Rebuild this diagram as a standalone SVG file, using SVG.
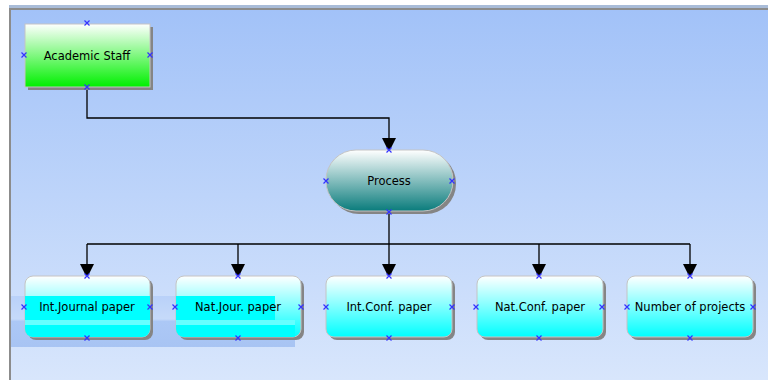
<svg xmlns="http://www.w3.org/2000/svg" width="768" height="380" viewBox="0 0 768 380">
  <defs>
    <linearGradient id="bg" x1="0" y1="0" x2="0" y2="1">
      <stop offset="0" stop-color="#a2c2f8"/>
      <stop offset="1" stop-color="#d8e6fc"/>
    </linearGradient>
    <linearGradient id="green" x1="0" y1="0" x2="0" y2="1">
      <stop offset="0" stop-color="#ffffff"/>
      <stop offset="1" stop-color="#00f000"/>
    </linearGradient>
    <linearGradient id="teal" x1="0" y1="0" x2="0" y2="1">
      <stop offset="0" stop-color="#ffffff"/>
      <stop offset="1" stop-color="#0a7c7c"/>
    </linearGradient>
    <linearGradient id="cyan" x1="0" y1="0" x2="0" y2="1">
      <stop offset="0" stop-color="#ffffff"/>
      <stop offset="1" stop-color="#00ffff"/>
    </linearGradient>
    <linearGradient id="band" x1="0" y1="0" x2="0" y2="1">
      <stop offset="0" stop-color="#b9d1f9"/>
      <stop offset="0.45" stop-color="#c6daf9"/>
      <stop offset="0.5" stop-color="#acc8f6"/>
      <stop offset="1" stop-color="#a8c4f3"/>
    </linearGradient>
    <marker id="arrow" viewBox="0 0 14 14" refX="13" refY="7" markerWidth="14" markerHeight="14" markerUnits="userSpaceOnUse" orient="auto">
      <path d="M0,0 L14,7 L0,14 Z" fill="#000"/>
    </marker>
    <path id="port" d="M-2.5,-2.5 L2.5,2.5 M-2.5,2.5 L2.5,-2.5"/>
    <clipPath id="clipJ"><rect x="25" y="276" width="125" height="61" rx="8"/></clipPath>
    <clipPath id="clipN"><rect x="176" y="276" width="125" height="61" rx="8"/></clipPath>
  </defs>
  <style>
    .shadow { fill: #858585; }
    .box { stroke: #c4c4c4; stroke-width: 1; }
    .label { font-family: "DejaVu Sans", "Liberation Sans", sans-serif; font-size: 11.5px; fill: #000; text-anchor: middle; }
    .port { stroke: #3333ff; stroke-width: 1.2; fill: none; }
    .wire { fill: none; stroke: #000; stroke-width: 1.3; }
  </style>

  <!-- canvas frame -->
  <rect x="0" y="0" width="768" height="380" fill="#ffffff"/>
  <rect x="9" y="5" width="759" height="4" fill="#a9bcd8"/>
  <rect x="9" y="8" width="759" height="2" fill="#8c8c8c"/>
  <rect x="9" y="8" width="2" height="372" fill="#8c8c8c"/>
  <rect x="11" y="10" width="757" height="370" fill="url(#bg)"/>
  <!-- redraw band behind the left-hand boxes -->
  <rect x="11" y="296" width="284" height="51" fill="url(#band)"/>

  <!-- connectors -->
  <g id="connectors">
    <path class="wire" d="M87,87 V118 H389 V151" marker-end="url(#arrow)"/>
    <path class="wire" d="M389,212 V244"/>
    <path class="wire" d="M87,244 H690"/>
    <path class="wire" d="M87,244 V277" marker-end="url(#arrow)"/>
    <path class="wire" d="M238,244 V277" marker-end="url(#arrow)"/>
    <path class="wire" d="M389,244 V277" marker-end="url(#arrow)"/>
    <path class="wire" d="M539,244 V277" marker-end="url(#arrow)"/>
    <path class="wire" d="M690,244 V277" marker-end="url(#arrow)"/>
  </g>

  <g id="academic-staff">
    <rect class="shadow" x="28" y="27" width="125" height="63"/>
    <rect class="box" x="25" y="24" width="125" height="63" fill="url(#green)"/>
    <text class="label" x="87" y="60">Academic Staff</text>
    <use class="port" href="#port" x="87" y="23"/>
    <use class="port" href="#port" x="24" y="55"/>
    <use class="port" href="#port" x="150" y="55"/>
    <use class="port" href="#port" x="87" y="87"/>
  </g>

  <g id="process">
    <rect class="shadow" x="329" y="153" width="127" height="61" rx="30"/>
    <rect class="box" x="326" y="150" width="127" height="61" rx="30" fill="url(#teal)"/>
    <text class="label" x="389" y="185">Process</text>
    <use class="port" href="#port" x="389" y="150"/>
    <use class="port" href="#port" x="326" y="181"/>
    <use class="port" href="#port" x="452" y="181"/>
    <use class="port" href="#port" x="389" y="212"/>
  </g>

  <g id="int-journal-paper">
    <rect class="shadow" x="28" y="279" width="125" height="61" rx="8"/>
    <rect class="box" x="25" y="276" width="125" height="61" rx="8" fill="url(#cyan)"/>
    <g clip-path="url(#clipJ)">
      <rect x="25" y="296" width="125" height="24" fill="#00ffff"/>
      <rect x="25" y="320" width="125" height="5" fill="#66ffff"/>
      <rect x="25" y="325" width="125" height="12" fill="#00ffff"/>
    </g>
    <text class="label" x="87" y="311">Int.Journal paper</text>
    <use class="port" href="#port" x="87" y="276"/>
    <use class="port" href="#port" x="24" y="307"/>
    <use class="port" href="#port" x="150" y="307"/>
    <use class="port" href="#port" x="87" y="338"/>
  </g>

  <g id="nat-jour-paper">
    <rect class="shadow" x="179" y="279" width="125" height="61" rx="8"/>
    <rect class="box" x="176" y="276" width="125" height="61" rx="8" fill="url(#cyan)"/>
    <g clip-path="url(#clipN)">
      <rect x="176" y="296" width="99" height="24" fill="#00ffff"/>
      <rect x="176" y="320" width="119" height="5" fill="#66ffff"/>
      <rect x="176" y="325" width="119" height="12" fill="#00ffff"/>
    </g>
    <text class="label" x="238" y="311">Nat.Jour. paper</text>
    <use class="port" href="#port" x="238" y="276"/>
    <use class="port" href="#port" x="175" y="307"/>
    <use class="port" href="#port" x="301" y="307"/>
    <use class="port" href="#port" x="238" y="338"/>
  </g>

  <g id="int-conf-paper">
    <rect class="shadow" x="329" y="279" width="126" height="61" rx="8"/>
    <rect class="box" x="326" y="276" width="126" height="61" rx="8" fill="url(#cyan)"/>
    <text class="label" x="389" y="311">Int.Conf. paper</text>
    <use class="port" href="#port" x="389" y="276"/>
    <use class="port" href="#port" x="326" y="307"/>
    <use class="port" href="#port" x="452" y="307"/>
    <use class="port" href="#port" x="389" y="338"/>
  </g>

  <g id="nat-conf-paper">
    <rect class="shadow" x="480" y="279" width="126" height="61" rx="8"/>
    <rect class="box" x="477" y="276" width="126" height="61" rx="8" fill="url(#cyan)"/>
    <text class="label" x="540" y="311">Nat.Conf. paper</text>
    <use class="port" href="#port" x="539" y="276"/>
    <use class="port" href="#port" x="476" y="307"/>
    <use class="port" href="#port" x="602" y="307"/>
    <use class="port" href="#port" x="539" y="338"/>
  </g>

  <g id="number-of-projects">
    <rect class="shadow" x="630" y="279" width="126" height="61" rx="8"/>
    <rect class="box" x="627" y="276" width="126" height="61" rx="8" fill="url(#cyan)"/>
    <text class="label" x="690" y="311">Number of projects</text>
    <use class="port" href="#port" x="690" y="276"/>
    <use class="port" href="#port" x="627" y="307"/>
    <use class="port" href="#port" x="753" y="307"/>
    <use class="port" href="#port" x="690" y="338"/>
  </g>
</svg>
